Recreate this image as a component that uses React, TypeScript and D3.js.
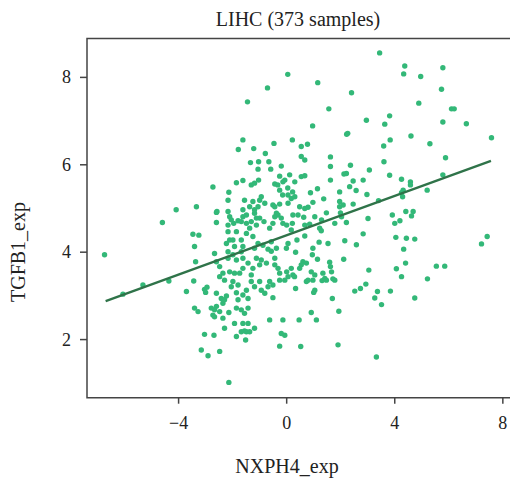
import React from "react";
import * as d3 from "d3";

const title = "LIHC (373 samples)";
const xLabel = "NXPH4_exp";
const yLabel = "TGFB1_exp";
const xTicks = [-4, 0, 4, 8];
const yTicks = [2, 4, 6, 8];
const xDomain = [-7.39, 8.45];
const yDomain = [0.67, 8.89];
// regression line: intercept, slope, x-range
const regIntercept = 4.39;
const regSlope = 0.225;
const regRange = [-6.7, 7.56];

const pointsX: number[] = [];
const pointsY: number[] = [];
const samples: [number, number][] = [
  [3.44, 8.56], [4.37, 8.26], [4.33, 8.08], [5.78, 8.22], [0.04, 8.07], [1.15, 7.88], [4.96, 8.02], [5.73, 7.73],
  [2.4, 7.65], [4.89, 7.41], [1.56, 7.28], [6.1, 7.28], [6.2, 7.28], [2.95, 7.02], [3.81, 7.12], [3.63, 6.93],
  [5.78, 6.98], [6.65, 6.94], [0.96, 6.89], [2.22, 6.7], [2.26, 6.72], [7.58, 6.62], [4.6, 6.66], [3.83, 6.57],
  [3.59, 6.43], [5.3, 6.48], [0.21, 6.57], [0.54, 6.42], [0.77, 6.47], [0.54, 6.19], [0.67, 6.11], [1.62, 6.18],
  [1.62, 5.96], [2.36, 5.99], [3.06, 5.88], [3.6, 6.07], [2.12, 5.79], [2.21, 5.8], [1.62, 5.65], [0.54, 5.73],
  [0.67, 5.75], [0.88, 5.36], [1.14, 5.45], [2.46, 5.63], [2.33, 5.5], [2.57, 5.41], [2.97, 5.32], [3.81, 5.76],
  [4.25, 5.67], [4.58, 5.61], [4.58, 5.54], [4.25, 5.36], [4.31, 5.42], [5.2, 5.42], [5.78, 5.77], [5.88, 6.16],
  [3.4, 5.18], [2.46, 5.1], [1.96, 5.38], [1.37, 5.22], [0.97, 5.14], [1.47, 4.9], [1.96, 5.04], [1.99, 4.9],
  [3.01, 4.77], [3.91, 4.85], [4.41, 4.93], [4.68, 4.93], [4.62, 4.83], [0.63, 4.8], [4.0, 4.66], [4.19, 4.72],
  [0.21, 4.66], [0.17, 4.51], [0.85, 4.64], [1.22, 4.55], [1.28, 4.49], [1.78, 4.66], [2.21, 4.68], [2.83, 4.42],
  [2.58, 4.17], [2.15, 4.26], [1.53, 4.2], [1.2, 4.23], [0.67, 4.37], [0.38, 4.28], [4.04, 4.34], [4.43, 4.32],
  [4.74, 4.3], [4.33, 4.07], [7.21, 4.19], [7.42, 4.36], [0.33, 4.0], [0.97, 4.09], [0.95, 3.94], [0.6, 3.78],
  [0.73, 3.75], [0.54, 3.71], [1.14, 3.84], [1.59, 3.77], [1.62, 3.67], [1.66, 3.55], [2.11, 3.84], [0.17, 3.63],
  [0.23, 3.48], [0.29, 3.44], [0.91, 3.55], [1.04, 3.48], [0.97, 3.36], [1.34, 3.52], [1.31, 3.35], [1.41, 3.4],
  [1.78, 3.36], [1.71, 3.39], [0.73, 3.33], [0.79, 3.36], [0.33, 3.17], [1.04, 3.13], [1.0, 3.08], [3.04, 3.59],
  [4.06, 3.62], [4.25, 3.44], [4.4, 3.75], [5.54, 3.68], [5.85, 3.68], [5.21, 3.39], [2.52, 3.11], [2.73, 3.17],
  [2.93, 3.27], [3.36, 3.1], [3.26, 2.95], [3.51, 2.8], [3.84, 3.11], [4.74, 2.95], [1.69, 2.94], [1.93, 2.65],
  [0.91, 2.62], [1.1, 2.45], [0.46, 2.45], [0.52, 1.84], [1.9, 1.88], [3.32, 1.6], [2.83, 5.65], [4.29, 5.27],
  [1.96, 5.16], [2.09, 5.08],
  [-6.74, 3.94], [-4.6, 4.68], [-6.06, 3.04], [-5.32, 3.25], [-4.36, 3.34],
  [-3.47, 4.41], [-3.25, 4.39], [-3.41, 4.13], [-3.37, 3.78], [-3.44, 3.34], [-3.71, 3.1],
  [-3.04, 3.15], [-2.95, 3.2], [-3.0, 3.08], [-3.41, 2.72], [-3.28, 2.64],
  [-3.04, 2.12], [-2.69, 2.1], [-3.16, 1.76], [-2.91, 1.63], [-2.48, 1.73], [-2.14, 1.02],
  [-2.6, 4.68], [-2.58, 4.93], [-2.17, 4.62], [-2.11, 4.81], [-1.96, 4.66], [-1.8, 4.72],
  [-1.62, 4.81], [-1.49, 4.66], [-1.31, 4.7], [-1.19, 4.89], [-1.0, 4.78], [-0.84, 4.7],
  [-0.51, 4.66], [-0.32, 4.85], [-0.2, 4.78], [0.0, 4.62],
  [-2.23, 4.2], [-2.11, 4.28], [-2.17, 4.01],
  [-2.6, 3.78], [-2.48, 3.67], [-2.36, 3.52], [-2.48, 3.44], [-2.3, 3.36],
  [-1.99, 3.94], [-1.86, 3.82], [-1.68, 4.28], [-1.62, 4.13], [-1.68, 4.01],
  [-1.25, 4.36], [-1.06, 4.2], [-1.19, 4.09], [-0.88, 4.16], [-0.69, 4.07], [-0.57, 4.24],
  [-0.94, 3.82], [-1.0, 3.71], [-0.75, 3.75], [-0.44, 3.86], [-0.32, 3.63], [-0.26, 3.52],
  [-1.43, 3.75], [-1.25, 3.63], [-1.31, 3.48], [-1.62, 3.63], [-1.74, 3.52],
  [-1.99, 3.33], [-1.8, 3.25], [-2.05, 3.21], [-1.31, 3.33], [-1.0, 3.33], [-1.19, 3.21],
  [-0.63, 3.33], [-0.26, 3.36], [0.0, 3.55], [-0.94, 3.13], [-0.81, 3.06],
  [-1.86, 3.07], [-1.62, 3.02], [-1.43, 2.94], [-1.49, 3.13],
  [-2.6, 3.06], [-2.42, 2.94], [-2.23, 3.0],
  [-2.6, 2.76], [-2.67, 2.68], [-2.73, 2.56], [-2.48, 2.64], [-2.36, 2.83],
  [-2.14, 2.62], [-1.86, 2.72], [-1.68, 2.68], [-1.43, 2.72],
  [-2.36, 2.49], [-1.93, 2.37], [-1.62, 2.37],
  [-2.3, 2.26], [-1.86, 2.07], [-1.68, 2.18], [-1.49, 2.18], [-1.52, 1.99], [-1.19, 2.26],
  [-0.63, 2.45], [-0.14, 2.45], [-0.2, 2.14], [-0.07, 2.1], [-0.26, 1.85], [-0.51, 2.96],
  [-1.56, 2.6], [-2.67, 3.97], [-2.17, 3.86], [-1.93, 4.13], [-1.62, 3.86], [-2.11, 3.55], [-1.93, 3.52],
  [-1.12, 3.86], [-1.43, 2.37], [-1.37, 2.18], [-2.17, 4.47], [-1.99, 4.28], [-1.86, 4.47], [-1.49, 4.43], [-1.37, 4.55],
  [-0.63, 4.55], [-0.38, 4.09], [-0.57, 4.02], [-0.01, 4.09], [0.05, 4.2], [-0.44, 3.71], [0.05, 3.44], [-0.07, 3.36],
  [-0.69, 3.21], [-0.51, 3.25], [0.48, 3.63], [1.47, 3.36],
  [-0.71, 7.76], [-1.45, 7.44], [-1.62, 6.57], [-1.79, 6.35], [-1.22, 6.37], [-0.47, 6.49],
  [-0.79, 6.26], [-1.34, 6.05], [-1.04, 6.07], [-0.66, 6.07], [-0.2, 5.97], [-1.06, 5.9], [-0.59, 5.9],
  [-2.73, 5.49], [-2.14, 5.37], [-1.86, 5.59], [-1.62, 5.64], [-1.31, 5.54], [-1.04, 5.65], [-0.44, 5.56],
  [-4.09, 4.97], [-3.34, 5.04], [-2.6, 4.91], [-2.17, 5.19], [-2.17, 4.93],
  [-1.56, 5.19], [-1.25, 5.16], [-1.0, 5.19], [-0.81, 5.12], [-0.51, 5.08], [-0.26, 5.1], [0.05, 5.12],
  [-0.26, 5.74], [-0.07, 5.65], [0.11, 5.77], [-0.33, 5.54], [0.04, 5.47], [0.22, 5.38], [-0.15, 5.31],
  [-1.19, 5.58], [-2.05, 4.74], [-1.37, 5.04], [-1.62, 4.97], [-1.49, 4.85], [-1.19, 4.97], [-1.68, 4.7], [-1.12, 4.78],
  [-0.14, 5.61], [-0.26, 5.42], [0.3, 5.61], [0.05, 5.31], [0.17, 5.23], [0.3, 5.27], [-0.94, 5.27], [-1.06, 5.04],
  [-0.44, 5.04], [0.48, 5.04], [0.67, 5.0], [0.79, 5.03], [-0.38, 4.89], [-0.44, 4.81], [0.23, 4.85], [0.42, 4.85],
  [-1.12, 4.62], [-0.14, 4.66], [1.04, 4.81], [1.29, 4.74], [0.67, 4.62], [2.03, 4.81],
  [-2.79, 2.72], [-2.67, 2.52], [-2.3, 2.91], [-1.8, 2.91], [-1.56, 2.2],
];
samples.forEach(([a, b]) => { pointsX.push(a); pointsY.push(b); });

const W = 510;
const H = 482;
const left = 87;
const right = 515;
const top = 38.5;
const bottom = 397.7;
const font = "'Liberation Serif', 'Times New Roman', serif";

export default function App() {
  const x = d3.scaleLinear().domain(xDomain).range([left, right]);
  const y = d3.scaleLinear().domain(yDomain).range([bottom, top]);
  const line = d3.line<number>().x((d) => x(d)).y((d) => y(regIntercept + regSlope * d));
  const fmt = (v: number) => (v < 0 ? "\u2212" + Math.abs(v) : String(v));
  return (
    <svg width={W} height={H} style={{ position: "absolute", left: 0, top: 0, background: "#fff" }}>
      <text x={298} y={26} textAnchor="middle" fontFamily={font} fontSize={20} fill="#222">{title}</text>
      <g>
        {pointsX.map((px, i) => (
          <circle key={i} cx={x(px)} cy={y(pointsY[i])} r={2.7} fill="#33b878" />
        ))}
      </g>
      <path d={line(regRange) || ""} stroke="#2f7349" strokeWidth={2.4} fill="none" />
      <path d={`M${right},${top}H${left}V${bottom}H${right}`} stroke="#444" strokeWidth={1.5} fill="none" />
      {xTicks.map((t) => (
        <g key={t}>
          <line x1={x(t)} x2={x(t)} y1={bottom} y2={bottom + 6} stroke="#444" strokeWidth={1.5} />
          <text x={x(t)} y={bottom + 31} textAnchor="middle" fontFamily={font} fontSize={18} fill="#222">{fmt(t)}</text>
        </g>
      ))}
      {yTicks.map((t) => (
        <g key={t}>
          <line x1={left - 7} x2={left} y1={y(t)} y2={y(t)} stroke="#444" strokeWidth={1.5} />
          <text x={left - 16} y={y(t) + 6} textAnchor="end" fontFamily={font} fontSize={18} fill="#222">{fmt(t)}</text>
        </g>
      ))}
      <text x={287} y={473} textAnchor="middle" fontFamily={font} fontSize={20} fill="#222">{xLabel}</text>
      <text transform={`translate(25,252) rotate(-90)`} textAnchor="middle" fontFamily={font} fontSize={20} fill="#222">{yLabel}</text>
    </svg>
  );
}
